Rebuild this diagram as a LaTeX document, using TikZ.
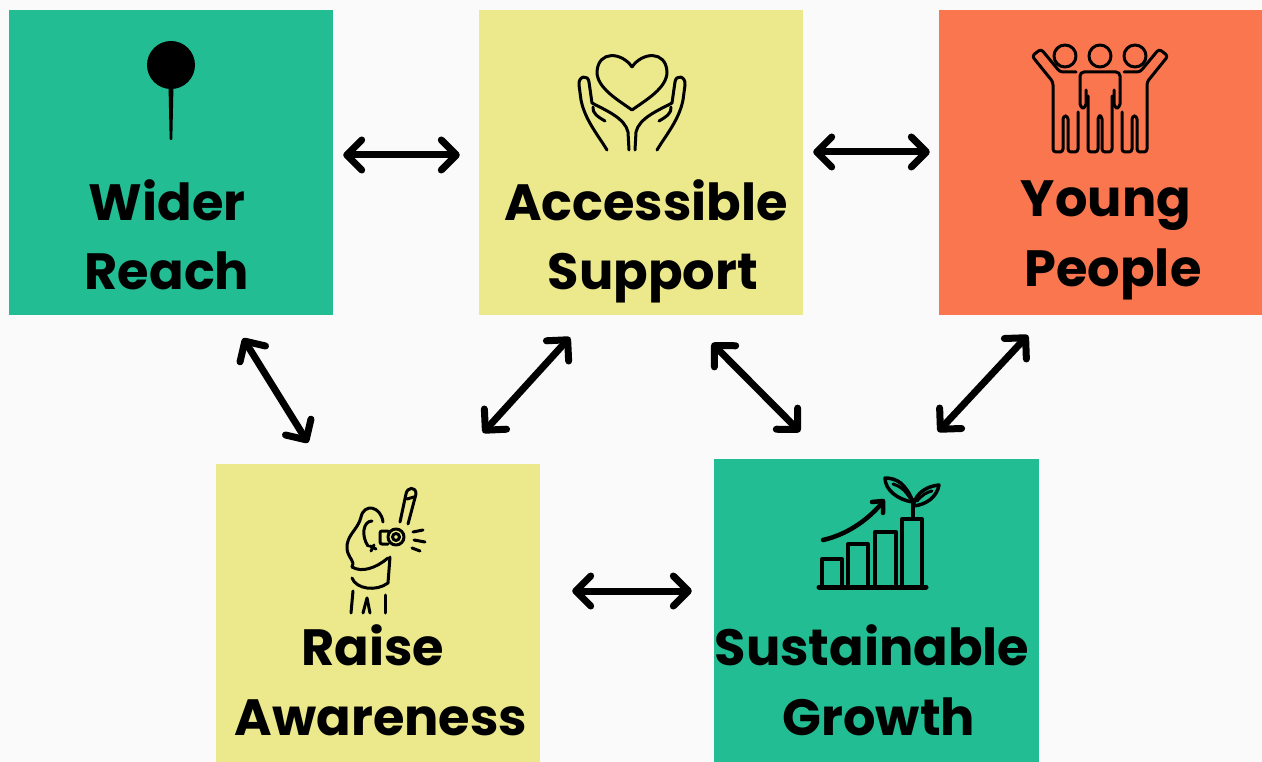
\documentclass[tikz,border=0pt]{standalone}
\usepackage{fontspec}
\setmainfont{Poppins}
\usetikzlibrary{arrows.meta}
\definecolor{leaf}{HTML}{22BD93}
\definecolor{straw}{HTML}{EBE98C}
\definecolor{coral}{HTML}{F9764F}
\definecolor{paper}{HTML}{FAFAFA}
\begin{document}
\begin{tikzpicture}
		[
		x=1pt,y=-1pt,
		block/.style={
		rectangle,
		inner sep=0pt,
		minimum width=324pt,
		minimum height=305pt},
		caption/.style={
		font=\fontsize{51}{70}\selectfont\bfseries,
		align=center,
		anchor=base,
		inner sep=0pt},
		link/.style={
		{Straight Barb[length=15pt,width=30pt,line cap=round,line join=round]}-{Straight Barb[length=15pt,width=30pt,line cap=round,line join=round]},
		line width=7pt,
		line cap=round},
		icon/.style={line width=3pt,line cap=round,line join=round}
		]
		\fill[paper] (0,0) rectangle (1262,762);
		\node[block,fill=leaf](wider_reach) at (171,162.5) {};
		\node[block,fill=straw](accessible_support) at (641,162.5) {};
		\node[block,fill=coral,minimum width=323pt](young_people) at (1100.5,162.5) {};
		\node[block,fill=straw,minimum height=298pt](raise_awareness) at (378,613) {};
		\node[block,fill=leaf,minimum width=325pt,minimum height=303pt](sustainable_growth) at (876.5,610.5) {};

		\node[caption](wider_reach_text) at (167,290) {Wider\\Reach};
		\node[caption](accessible_support_text) at (646,290) {Accessible\\\hspace*{14pt}Support};
		\node[caption](young_people_text) at (1106,287) {Young\\\hspace*{14pt}People};
		\node[caption](raise_awareness_text) at (381,735) {Raise\hspace*{16pt}\\Awareness};
		\node[caption](sustainable_growth_text) at (872,735) {Sustainable\\\hspace*{14pt}Growth};

		% pin
		\fill (171,65) circle (24);
		\fill[rounded corners=1pt] (168.5,85) -- (173.5,85) -- (172.3,140) -- (169.7,140) -- cycle;

		% heart in hands
		\draw[icon] (632,67) .. controls (622,52) and (598,50) .. (597,72) .. controls (597,88) and (618,100) .. (632,110) .. controls (646,100) and (667,88) .. (667,72) .. controls (666,50) and (642,52) .. (632,67);
		\foreach \flip/\shift in {1/0,-1/1264} {
		\begin{scope}[xshift=\shift pt,xscale=\flip]
		\draw[icon] (607,150) .. controls (598,135) and (585,120) .. (581,100) -- (579,85) .. controls (578,76) and (588,74) .. (589,82) -- (592,103) .. controls (605,110) and (625,118) .. (628,132) -- (629,150);
		\draw[icon] (593,107) .. controls (592,113) and (598,117) .. (605,121);
		\end{scope}
		}

		% three people
		\foreach \cx in {1065,1100,1135}
		\draw[icon] (\cx,56) circle (11);
		\draw[icon,rounded corners=4pt] (1086,90) -- (1086,108) -- (1080,108) -- (1080,72) -- (1120,72) -- (1120,108) -- (1114,108) -- (1114,90);
		\draw[icon,rounded corners=3pt] (1088,96) -- (1088,152) -- (1098,152) -- (1098,116) -- (1102,116) -- (1102,152) -- (1112,152) -- (1112,96);
		\foreach \flip/\shift in {1/0,-1/2200} {
		\begin{scope}[xshift=\shift pt,xscale=\flip]
		\draw[icon,rounded corners=3pt] (1076,72) -- (1060,72) -- (1041,49) -- (1032,56) -- (1053,82) -- (1053,152) -- (1063,152) -- (1063,116) -- (1068,116) -- (1068,152) -- (1078,152) -- (1078,112);
		\end{scope}
		}

		% megaphone
		\draw[icon] (400,522) -- (406,494) .. controls (407,487) and (416,486) .. (416,494) -- (408,524);
		\draw[icon] (407,499) -- (414,497);
		\draw[icon] (396,537) circle (8);
		\draw[icon] (396,537) circle (3.5);
		\draw[icon,rounded corners=2pt] (388,531) -- (380,531) -- (380,544) -- (388,544);
		\draw[icon] (413,532) -- (423,530);
		\draw[icon] (414,540) -- (425,542);
		\draw[icon] (412,548) -- (420,551);
		\draw[icon] (383,522) .. controls (381,506) and (364,503) .. (361,517) .. controls (358,530) and (346,535) .. (347,549) .. controls (348,558) and (356,562) .. (352,567);
		\draw[icon] (372,521) .. controls (363,521) and (361,536) .. (368,546);
		\draw[icon] (352,567) .. controls (362,573) and (376,568) .. (388,558);
		\draw[icon] (370,546) -- (376,549);
		\draw[icon] (371,551) -- (374,545);
		\draw[icon] (352,578) .. controls (356,589) and (376,592) .. (388,583) -- (390,557);
		\draw[icon] (353,591) -- (351,613);
		\draw[icon] (367,598) -- (363,613);
		\draw[icon] (367,598) -- (370,613);
		\draw[icon] (385,595) -- (385,613);

		% growth chart
		\draw[icon,line width=4pt] (822,559) rectangle (842,587);
		\draw[icon,line width=4pt] (848,544) rectangle (868,587);
		\draw[icon,line width=4pt] (875,532) rectangle (896,587);
		\draw[icon,line width=4pt] (902,519) rectangle (922,587);
		\draw[line width=5pt,line cap=round] (819,587) -- (926,587);
		\draw[icon,line width=4.5pt] (823,540) .. controls (845,535) and (866,522) .. (882,503);
		\draw[icon,line width=4.5pt] (872,502) -- (883,501) -- (883,513);
		\draw[icon,line width=4pt] (913,518) -- (913,500);
		\draw[icon,line width=3.5pt] (913,502) .. controls (906,484) and (897,478) .. (885,478) .. controls (885,490) and (898,500) .. (913,502);
		\draw[icon,line width=3pt] (910,498) .. controls (905,490) and (900,486) .. (893,484);
		\draw[icon,line width=3.5pt] (913,506) .. controls (916,492) and (928,486) .. (939,485) .. controls (937,497) and (926,505) .. (913,506);
		\draw[icon,line width=3pt] (917,501) .. controls (922,495) and (927,492) .. (932,491);

		\draw[link] ([xshift=10pt,yshift=7.5pt]wider_reach.east) -- ([xshift=-19pt,yshift=7.5pt]accessible_support.west);
		\draw[link] ([xshift=10pt,yshift=10.5pt]accessible_support.east) -- ([xshift=-9pt,yshift=10.5pt]young_people.west);
		\draw[link] ([xshift=72pt,yshift=-23pt]wider_reach.south) -- ([xshift=-70pt,yshift=21pt]raise_awareness.north);
		\draw[link] ([xshift=-71pt,yshift=-22pt]accessible_support.south) -- ([xshift=105pt,yshift=31pt]raise_awareness.north);
		\draw[link] ([xshift=71pt,yshift=-28pt]accessible_support.south) -- ([xshift=-76.5pt,yshift=27pt]sustainable_growth.north);
		\draw[link] ([xshift=-72.5pt,yshift=-20pt]young_people.south) -- ([xshift=61.5pt,yshift=27pt]sustainable_growth.north);
		\draw[link] ([xshift=32pt,yshift=22pt]raise_awareness.east) -- ([xshift=-22pt,yshift=19.5pt]sustainable_growth.west);
		\end{tikzpicture}
\end{document}
